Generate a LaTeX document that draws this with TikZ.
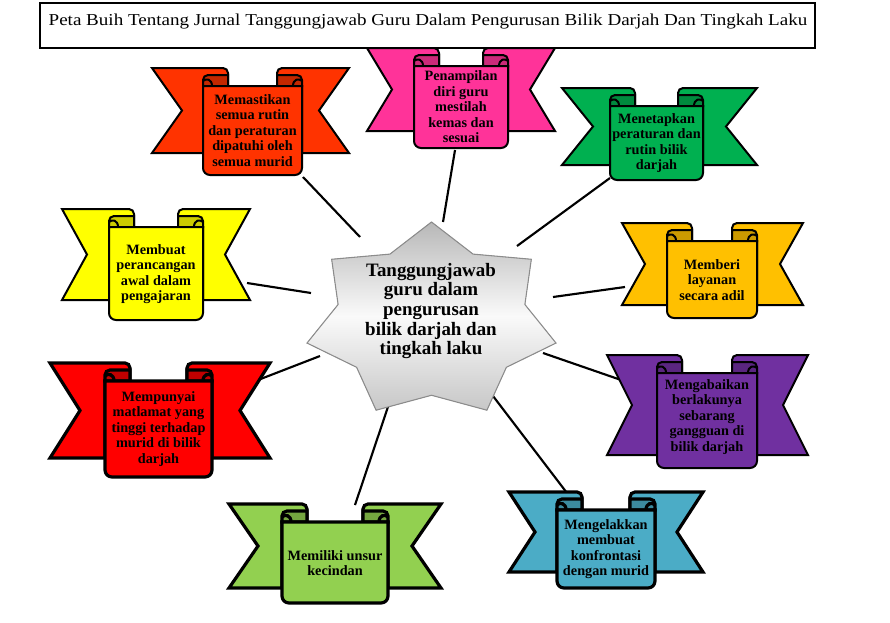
\documentclass[tikz,border=0pt]{standalone}
\usepackage{fontspec}
\setmainfont{Liberation Serif}
\usepackage{graphicx}
\definecolor{cA}{HTML}{FF3300}\definecolor{cAdk}{HTML}{C42800}
\definecolor{cB}{HTML}{FF3399}\definecolor{cBdk}{HTML}{CC2A7A}
\definecolor{cC}{HTML}{00B050}\definecolor{cCdk}{HTML}{008A3E}
\definecolor{cD}{HTML}{FFFF00}\definecolor{cDdk}{HTML}{CCCC00}
\definecolor{cE}{HTML}{FFC000}\definecolor{cEdk}{HTML}{CC9A00}
\definecolor{cF}{HTML}{FF0000}\definecolor{cFdk}{HTML}{C00000}
\definecolor{cG}{HTML}{7030A0}\definecolor{cGdk}{HTML}{5A2680}
\definecolor{cH}{HTML}{92D050}\definecolor{cHdk}{HTML}{75A640}
\definecolor{cI}{HTML}{4BACC6}\definecolor{cIdk}{HTML}{3C8A9E}
\tikzset{
  rib/.style={draw=black, line join=miter},
  thinrib/.style={line width=1.5pt},
  thickrib/.style={line width=2.4pt},
  ribtext/.style={align=center, font=\fontsize{10.7}{11.6}\selectfont\bfseries, inner sep=0pt, text=black},
  conn/.style={draw=black, line width=1.6pt},
  titlebox/.style={draw=black, line width=0.8pt, fill=white, inner sep=0pt},
  startext/.style={align=center, font=\fontsize{14.2}{14.8}\selectfont\bfseries, inner sep=0pt},
  starsty/.style={draw=black!45, line width=0.8pt, top color=black!28, bottom color=black!22, middle color=black!2},
}
% #1 L, #2 R, #3 T, #4 B, #5 notch, #6 PL, #7 PR, #8 Pb, #9 colour
\newcommand\ribbon[9]{%
  \filldraw[rib, fill=#9] (#1,#3) -- ({#6+20},#3) arc[start angle=270,end angle=360,radius=5]
     -- ({#6+25},{#3+18}) -- (#6,{#3+18}) -- (#6,#4) -- (#1,#4) -- ({#1+#5},{(#3+#4)/2}) -- cycle;
  \filldraw[rib, fill=#9] (#2,#3) -- ({#7-20},#3) arc[start angle=270,end angle=180,radius=5]
     -- ({#7-25},{#3+18}) -- (#7,{#3+18}) -- (#7,#4) -- (#2,#4) -- ({#2-#5},{(#3+#4)/2}) -- cycle;
  \filldraw[rib, fill=#9dk] (#6,{#3+18}) -- (#6,{#3+12}) arc[start angle=180,end angle=270,radius=5]
     -- ({#6+25},{#3+7}) -- ({#6+25},{#3+18}) -- cycle;
  \filldraw[rib, fill=#9dk] (#7,{#3+18}) -- (#7,{#3+12}) arc[start angle=0,end angle=-90,radius=5]
     -- ({#7-25},{#3+7}) -- ({#7-25},{#3+18}) -- cycle;
  \filldraw[rib, fill=#9] (#6,{#3+18}) -- (#6,{#8-7}) arc[start angle=180,end angle=90,radius=7]
     -- ({#7-7},#8) arc[start angle=90,end angle=0,radius=7] -- (#7,{#3+18}) -- cycle;
  \draw[rib] ({#6+9},{#3+18}) .. controls ({#6+9},{#3+11}) and ({#6+3},{#3+10}) .. (#6,{#3+13});
  \draw[rib] ({#7-9},{#3+18}) .. controls ({#7-9},{#3+11}) and ({#7-3},{#3+10}) .. (#7,{#3+13});
}
\begin{document}
\begin{tikzpicture}[x=0.75pt, y=-0.75pt]
\useasboundingbox[fill=white] (0,0) rectangle (890,622);

% connector end points
\coordinate (a1) at (303,177); \coordinate (a2) at (360,237);
\coordinate (b1) at (455,150); \coordinate (b2) at (443,222);
\coordinate (c1) at (610,178); \coordinate (c2) at (517,246);
\coordinate (d1) at (247,283); \coordinate (d2) at (311,293);
\coordinate (e1) at (625,287); \coordinate (e2) at (553,297);
\coordinate (f1) at (258,380); \coordinate (f2) at (320,356);
\coordinate (g1) at (624,381); \coordinate (g2) at (543,353);
\coordinate (h1) at (355,505); \coordinate (h2) at (393,392);
\coordinate (i1) at (567,493); \coordinate (i2) at (493,396);

\foreach \p in {a,b,c,d,e,f,g,h,i} {\draw[conn] (\p1) -- (\p2);}

% ribbons
\begin{scope}[thinrib]
\ribbon{152}{349}{68}{153}{30}{203}{302}{175}{cA}
\ribbon{367}{555}{48}{131}{25}{414}{508}{148}{cB}
\ribbon{562}{757}{88}{165}{31}{610}{703}{180}{cC}
\ribbon{62}{250}{209}{300}{25}{109}{203}{320}{cD}
\ribbon{622}{803}{223}{305}{23}{667}{757}{318}{cE}
\ribbon{607}{808}{355}{455}{25}{657}{757}{468}{cG}
\end{scope}
\begin{scope}[thickrib]
\ribbon{50}{270}{363}{458}{30}{105}{212}{477}{cF}
\ribbon{229}{441}{504}{588}{29}{282}{388}{603}{cH}
\ribbon{509}{703}{492}{572}{26}{557}{655}{588}{cI}
\end{scope}

\node[ribtext] (tA) at (252.5,130.5) {Memastikan\\semua rutin\\dan peraturan\\dipatuhi oleh\\semua murid};
\node[ribtext] (tB) at (461,107) {Penampilan\\diri guru\\mestilah\\kemas dan\\sesuai};
\node[ribtext] (tC) at (656.5,143) {Menetapkan\\peraturan dan\\rutin bilik\\darjah};
\node[ribtext] (tD) at (156,274) {Membuat\\perancangan\\awal dalam\\pengajaran};
\node[ribtext] (tE) at (712,280) {Memberi\\layanan\\secara adil};
\node[ribtext] (tF) at (158.5,429) {Mempunyai\\matlamat yang\\tinggi terhadap\\murid di bilik\\darjah};
\node[ribtext] (tG) at (707,417) {Mengabaikan\\berlakunya\\sebarang\\gangguan di\\bilik darjah};
\node[ribtext] (tH) at (335,563) {Memiliki unsur\\kecindan};
\node[ribtext] (tI) at (606,549) {Mengelakkan\\membuat\\konfrontasi\\dengan murid};

% central star
\begin{scope}[shift={(431.5,321)}]
\filldraw[starsty] (-90:127.7 and 99)
  \foreach \a in {0,...,6} { -- ({-90-\a*360/7-180/7}:{0.75*127.7} and {0.75*99}) -- ({-90-(\a+1)*360/7}:127.7 and 99) } -- cycle;
\end{scope}
\node[startext] (center) at (431,311) {Tanggungjawab\\guru dalam\\pengurusan\\bilik darjah dan\\tingkah laku};

% title
\node[titlebox, minimum width=581.25pt, minimum height=33.75pt] (tbox) at (427.5,25.5) {};
\node[anchor=base, inner sep=0pt, font=\fontsize{12.5}{14}\selectfont] (title) at (428,25)
  {\resizebox{569pt}{\height}{Peta Buih Tentang Jurnal Tanggungjawab Guru Dalam Pengurusan Bilik Darjah Dan Tingkah Laku}};
\end{tikzpicture}
\end{document}
